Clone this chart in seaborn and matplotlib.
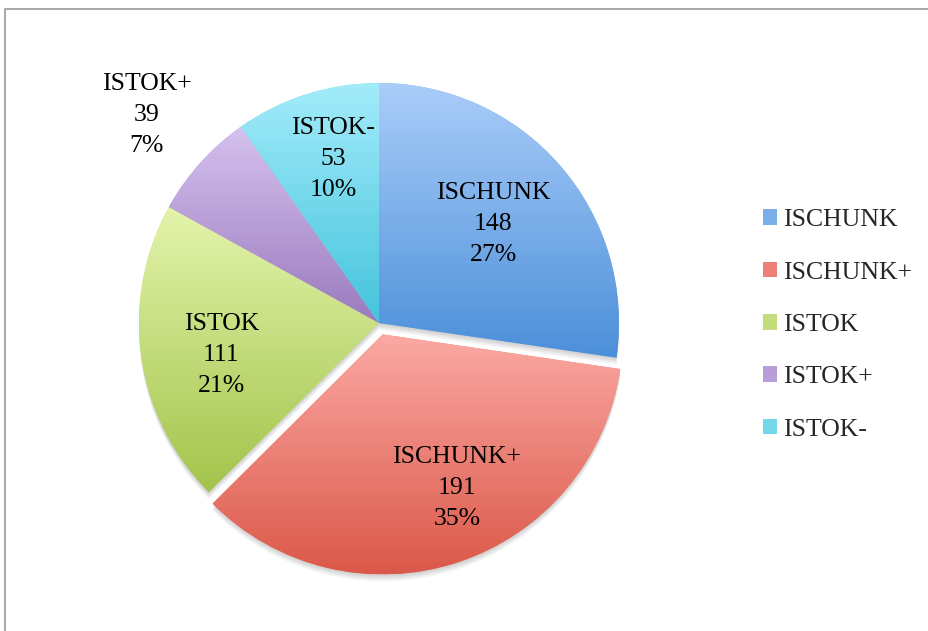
import numpy as np
import matplotlib.pyplot as plt
import seaborn as sns
from matplotlib.colors import to_rgb
from matplotlib.patches import Patch, Wedge

# data
labels = ["ISCHUNK", "ISCHUNK+", "ISTOK", "ISTOK+", "ISTOK-"]
counts = [148, 191, 111, 39, 53]
percents = [27, 35, 21, 7, 10]

# gradient colours per slice (top -> bottom)
top_colors = ["#aacdf9", "#fba9a4", "#e4f4ac", "#d6c1ee", "#a3ecfa"]
bottom_colors = ["#4b8fd9", "#db5849", "#a2c44b", "#9a7abe", "#44c3dc"]

sns.set_theme(style="white")
plt.rcParams['font.family'] = ['Liberation Serif', 'DejaVu Serif']

fig = plt.figure(figsize=(9.29, 6.31), dpi=100)
ax = fig.add_axes([0, 0, 1, 1])

mid_colors = [tuple((np.array(to_rgb(a)) + np.array(to_rgb(b))) / 2)
              for a, b in zip(top_colors, bottom_colors)]
pal = sns.color_palette(mid_colors)

cx, cy, R = 379, 308, 240
explode = [0, 0.05 * R, 0, 0, 0]

wedges, _ = ax.pie(counts, colors=pal, startangle=90, counterclock=False,
                   explode=explode, center=(cx, cy), radius=R, frame=True,
                   wedgeprops=dict(linewidth=0, zorder=1))

# soft drop shadow
for w in wedges:
    for k in range(1, 9):
        s = Wedge((w.center[0], w.center[1] - k * 0.9), w.r, w.theta1, w.theta2,
                  facecolor='black', alpha=0.025, lw=0, zorder=0.5)
        ax.add_patch(s)

# vertical gradient fill, clipped to each wedge
grad = np.linspace(0, 1, 256)[:, None, None]
for w, c0, c1 in zip(wedges, top_colors, bottom_colors):
    bb = w.get_path().get_extents()
    rgb = (1 - grad) * np.array(to_rgb(c0)) + grad * np.array(to_rgb(c1))
    im = ax.imshow(rgb, extent=(bb.x0, bb.x1, bb.y0, bb.y1), origin='upper',
                   aspect='auto', zorder=2, interpolation='bilinear')
    im.set_clip_path(w)

# data labels
label_r = [0.63, 0.76, 0.67, 1.30, 0.71]
label_shift = [0, 7, 3.5, 0, -2]
for w, lab, n, p, lr, sh in zip(wedges, labels, counts, percents, label_r, label_shift):
    ang = np.deg2rad((w.theta1 + w.theta2) / 2 + sh)
    ax.text(cx + lr * R * np.cos(ang), cy + lr * R * np.sin(ang),
            f"{lab}\n{n}\n{p}%", ha='center', va='center', fontsize=18.5,
            linespacing=1.55, color='black', zorder=5)

handles = [Patch(facecolor=c, edgecolor='none') for c in pal]
ax.legend(handles, labels, loc='center left', bbox_to_anchor=(0.821, 0.485),
          frameon=False, fontsize=18.5, handlelength=0.55, handleheight=0.55,
          handletextpad=0.25, labelspacing=1.18, borderpad=0, borderaxespad=0)

# chart area border
ax.plot([5, 5, 929], [0, 622, 622], color='#a0a0a0', lw=1.3, clip_on=False, zorder=6)

ax.set_xlim(0, 929)
ax.set_ylim(0, 631)
ax.axis('off')

fig.savefig("out.png", dpi=100)
